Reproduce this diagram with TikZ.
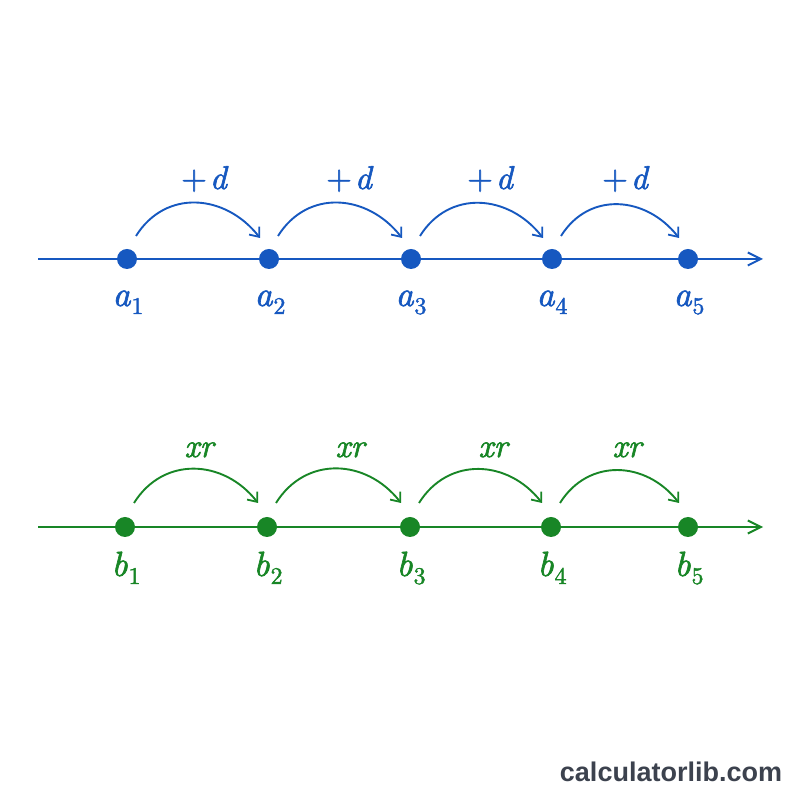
\documentclass[tikz,border=0pt]{standalone}
\usepackage{fontspec}
\newfontfamily\wmfont{Liberation Sans}
\newfontface\labit{lmroman10-italic.otf}[FakeBold=1.8]
\newfontface\labrm{lmroman10-regular.otf}[FakeBold=1.8]
\newcommand{\labsub}[2]{{\labit\fontsize{35}{40}\selectfont #1}\kern1pt\raisebox{-8pt}{\labrm\fontsize{24}{28}\selectfont #2}}
\usetikzlibrary{arrows.meta}
\definecolor{ablue}{RGB}{22,88,192}
\definecolor{bgreen}{RGB}{24,134,38}
\definecolor{wmgray}{RGB}{60,66,78}
\tikzset{
  axisA/.style={draw=ablue,line width=2.2pt,-{Straight Barb[length=13pt,width=13pt,line width=2pt]}},
  axisB/.style={draw=bgreen,line width=2.2pt,-{Straight Barb[length=13pt,width=13pt,line width=2pt]}},
  dotA/.style={circle,fill=ablue,minimum size=20pt,inner sep=0pt},
  dotB/.style={circle,fill=bgreen,minimum size=20pt,inner sep=0pt},
  arcA/.style={draw=ablue,line width=1.9pt,-{Straight Barb[length=8pt,width=13pt,line width=1.8pt]}},
  arcB/.style={draw=bgreen,line width=1.9pt,-{Straight Barb[length=8pt,width=13pt,line width=1.8pt]}},
  labA/.style={text=ablue,anchor=base,inner sep=0pt},
  labB/.style={text=bgreen,anchor=base,inner sep=0pt},
}
\begin{document}
\begin{tikzpicture}[x=1pt,y=1pt]
\useasboundingbox[fill=white] (0,0) rectangle (800,800);
% top row
\coordinate (sA) at (38,541);
\coordinate (eA) at (763,541);
\draw[axisA] (sA) -- (eA);
\node[dotA] (a1) at (127,541) {};
\node[dotA] (a2) at (269,541) {};
\node[dotA] (a3) at (411,541) {};
\node[dotA] (a4) at (552,541) {};
\node[dotA] (a5) at (688,541) {};
\node[labA] (la1) at (128,494) {\labsub{a}{1}};
\node[labA] (la2) at (270,494) {\labsub{a}{2}};
\node[labA] (la3) at (411,494) {\labsub{a}{3}};
\node[labA] (la4) at (552,494) {\labsub{a}{4}};
\node[labA] (la5) at (689,494) {\labsub{a}{5}};
\foreach \i/\j/\x in {1/2/204,2/3/349,3/4/490,4/5/625}{
  \draw[arcA] ([shift={(9,23)}]a\i.center) to[out=58,in=128,looseness=1.15] ([shift={(-9,21)}]a\j.center);
  \node[labA] (da\i) at (\x,611) {{\labrm\fontsize{33}{38}\selectfont +}\kern3pt{\labit\fontsize{33}{38}\selectfont d}};
}
% bottom row
\coordinate (sB) at (38,273);
\coordinate (eB) at (763,273);
\draw[axisB] (sB) -- (eB);
\node[dotB] (b1) at (125,273) {};
\node[dotB] (b2) at (267,273) {};
\node[dotB] (b3) at (410,273) {};
\node[dotB] (b4) at (551,273) {};
\node[dotB] (b5) at (688,273) {};
\node[labB] (lb1) at (126,224) {\labsub{b}{1}};
\node[labB] (lb2) at (268,224) {\labsub{b}{2}};
\node[labB] (lb3) at (411,224) {\labsub{b}{3}};
\node[labB] (lb4) at (552,224) {\labsub{b}{4}};
\node[labB] (lb5) at (689,224) {\labsub{b}{5}};
\foreach \i/\j/\x in {1/2/199,2/3/350,3/4/493,4/5/627}{
  \draw[arcB] ([shift={(9,24)}]b\i.center) to[out=58,in=128,looseness=1.15] ([shift={(-9,24)}]b\j.center);
  \node[labB] (xb\i) at (\x,343) {{\labit\fontsize{33}{38}\selectfont xr}};
}
% watermark
\node[anchor=base,inner sep=0pt,text=wmgray,font=\wmfont\bfseries\fontsize{27}{32}\selectfont] (wm) at (671,18) {calculatorlib.com};
\end{tikzpicture}
\end{document}
